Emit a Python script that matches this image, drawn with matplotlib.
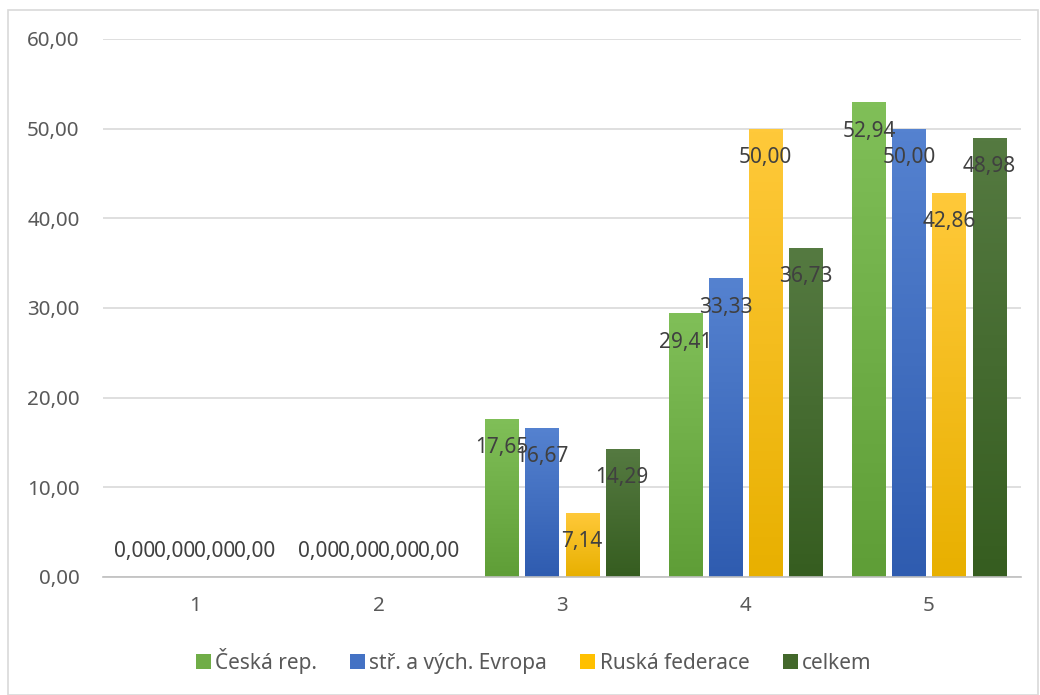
import numpy as np
import matplotlib.pyplot as plt
from matplotlib.colors import LinearSegmentedColormap
from matplotlib.patches import Patch, Rectangle

# data
categories = ['1', '2', '3', '4', '5']
series_names = ['Česká rep.', 'stř. a vých. Evropa', 'Ruská federace', 'celkem']
ceska = [0.00, 0.00, 17.65, 29.41, 52.94]
evropa = [0.00, 0.00, 16.67, 33.33, 50.00]
ruska = [0.00, 0.00, 7.14, 50.00, 42.86]
celkem = [0.00, 0.00, 14.29, 36.73, 48.98]

# (light top, dark bottom, legend colour)
styles = [('#80bf58', '#5f9e37', '#70AD47'),
          ('#5582d0', '#2f5cb0', '#4472C4'),
          ('#ffc93a', '#e8b000', '#FFC000'),
          ('#557a41', '#365d20', '#43682B')]

plt.rcParams['font.family'] = ['Noto Sans', 'DejaVu Sans']

fig = plt.figure(figsize=(10.4, 6.95), dpi=100)
ax = fig.add_axes([0.0993, 0.1698, 0.8822, 0.7741])

# chart border
fig.patches.append(Rectangle((8 / 1040, 0), 1 - 8 / 1040 - 0.002, 1 - 10 / 695,
                             transform=fig.transFigure, fill=False,
                             edgecolor='#d9d9d9', linewidth=1.2))

x = np.arange(len(categories))
width = 0.18
step = 0.218
all_series = [ceska, evropa, ruska, celkem]

for i, (vals, (light, dark, _)) in enumerate(zip(all_series, styles)):
    pos = x + (i - 1.5) * step
    bars = ax.bar(pos, vals, width=width, color='none', edgecolor='none', zorder=2)
    cmap = LinearSegmentedColormap.from_list('g%d' % i, [dark, light])
    grad = np.linspace(0, 1, 100).reshape(-1, 1)
    for b, v in zip(bars, vals):
        if v <= 0:
            continue
        im = ax.imshow(grad, extent=[b.get_x(), b.get_x() + b.get_width(), 0, v],
                       origin='lower', aspect='auto', cmap=cmap, zorder=2)
        im.set_clip_path(b)
    # inside-end labels, zeros sit just above the axis
    for p, v in zip(pos, vals):
        label = f'{v:.2f}'.replace('.', ',')
        off = -29 if v > 0 else 25
        ax.annotate(label, (p, v), xytext=(0, off), textcoords='offset pixels',
                    ha='center', va='center', fontsize=15, color='#404040', zorder=4)

ax.set_xlim(-0.5, 4.5)
ax.set_ylim(0, 60)
ax.set_yticks(np.arange(0, 61, 10))
ax.set_yticklabels([f'{t:.2f}'.replace('.', ',') for t in np.arange(0, 61, 10)])
ax.set_xticks(x)
ax.set_xticklabels(categories)
ax.tick_params(axis='both', length=0, labelsize=14.8, colors='#595959')
ax.tick_params(axis='x', pad=14)
ax.tick_params(axis='y', pad=17)
ax.grid(axis='y', color='#d9d9d9', linewidth=1.2, zorder=0)
ax.set_axisbelow(True)
for s in ['top', 'right', 'left']:
    ax.spines[s].set_visible(False)
ax.spines['bottom'].set_color('#bfbfbf')
ax.spines['bottom'].set_linewidth(1.2)

handles = [Patch(facecolor=c, edgecolor='none') for _, _, c in styles]
fig.legend(handles, series_names, loc='center', bbox_to_anchor=(0.513, 0.049),
           ncol=4, frameon=False, fontsize=15, handlelength=0.72, handleheight=0.72,
           handletextpad=0.2, columnspacing=1.6, labelcolor='#595959')

fig.savefig('out.png', dpi=100)
